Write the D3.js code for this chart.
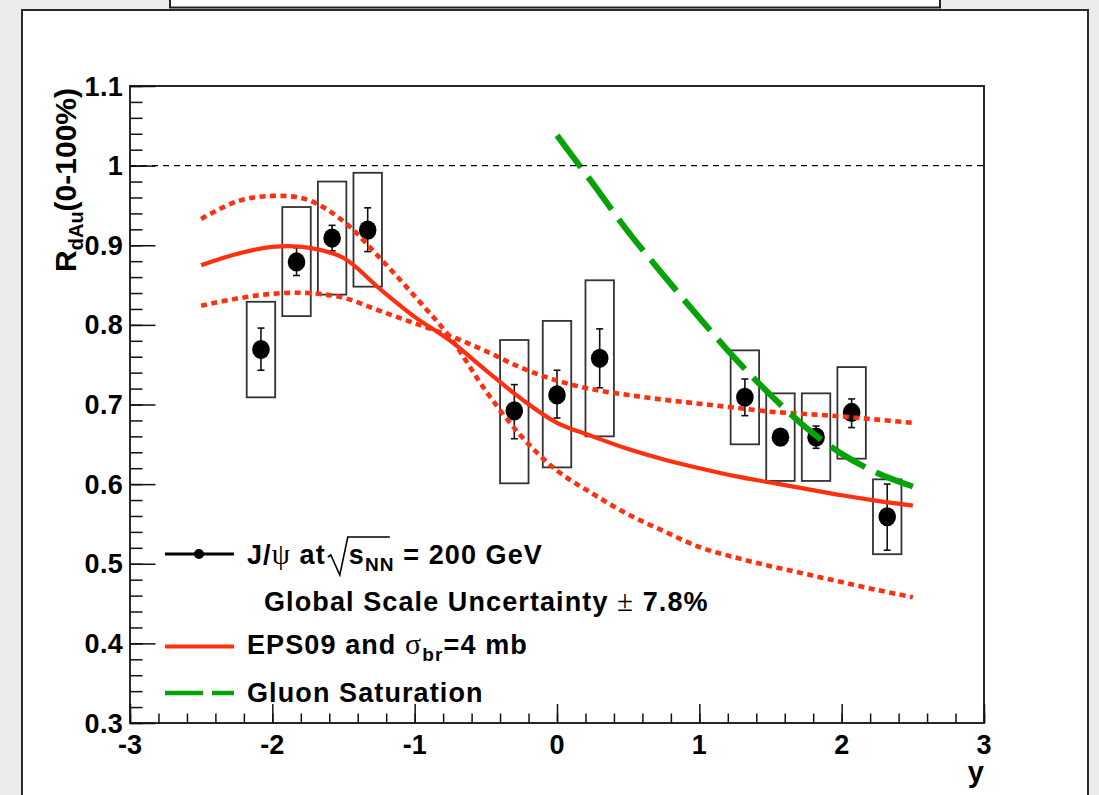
<!DOCTYPE html>
<html><head><meta charset="utf-8">
<script src="https://cdn.jsdelivr.net/npm/d3@7"></script>
<style>
html,body{margin:0;padding:0;background:#ebebed;}
svg{display:block;}
text{font-family:"Liberation Sans",Arial,Helvetica,sans-serif;font-weight:bold;fill:#000;}
.sym{font-family:"Liberation Serif","Times New Roman",serif;font-weight:normal;}
</style></head><body>
<svg id="chart" width="1099" height="795"></svg>
<script>
// J/psi nuclear modification factor in d+Au vs rapidity
const rapidity   = [-2.08, -1.83, -1.58, -1.33, -0.30, 0.00, 0.30, 1.32, 1.57, 1.82, 2.07, 2.32];
const rdau       = [0.769, 0.879, 0.909, 0.919, 0.692, 0.712, 0.758, 0.709, 0.659, 0.659, 0.690, 0.559];
const statLow    = [0.743, 0.862, 0.893, 0.892, 0.657, 0.683, 0.721, 0.686, 0.650, 0.645, 0.671, 0.517];
const statHigh   = [0.796, 0.897, 0.925, 0.947, 0.725, 0.743, 0.795, 0.732, 0.668, 0.673, 0.707, 0.600];
const sysLow     = [0.709, 0.811, 0.838, 0.848, 0.601, 0.621, 0.660, 0.650, 0.604, 0.604, 0.632, 0.512];
const sysHigh    = [0.829, 0.948, 0.980, 0.991, 0.781, 0.805, 0.856, 0.768, 0.714, 0.714, 0.747, 0.606];
const sysHalfWidth = 0.1;

// EPS09 + breakup cross section calculation (central value and band edges)
const modelY       = [-2.5, -2.25, -2.0, -1.75, -1.5, -1.25, -1.0, -0.75, -0.5, -0.25, 0.0, 0.25, 0.5, 0.75, 1.0, 1.25, 1.5, 1.75, 2.0, 2.25, 2.5];
const eps09Central = [0.875, 0.889, 0.898, 0.897, 0.884, 0.846, 0.810, 0.780, 0.743, 0.707, 0.677, 0.660, 0.644, 0.631, 0.620, 0.610, 0.602, 0.594, 0.586, 0.579, 0.573];
const eps09EdgeA   = [0.933, 0.955, 0.962, 0.957, 0.930, 0.885, 0.836, 0.784, 0.717, 0.660, 0.617, 0.588, 0.562, 0.541, 0.521, 0.508, 0.497, 0.487, 0.477, 0.467, 0.458];
const eps09EdgeB   = [0.824, 0.833, 0.839, 0.840, 0.834, 0.818, 0.802, 0.786, 0.767, 0.746, 0.730, 0.719, 0.712, 0.706, 0.701, 0.696, 0.691, 0.688, 0.685, 0.681, 0.677];

// Gluon saturation (CGC) calculation
const satY = [0.0, 0.25, 0.5, 0.75, 1.0, 1.25, 1.5, 1.75, 2.0, 2.25, 2.5];
const satR = [1.038, 0.978, 0.917, 0.862, 0.809, 0.758, 0.712, 0.671, 0.638, 0.614, 0.597];

const xTicks = [-3, -2, -1, 0, 1, 2, 3];
const yTicks = [0.3, 0.4, 0.5, 0.6, 0.7, 0.8, 0.9, 1.0, 1.1];
const xDomain = [-3, 3];
const yDomain = [0.3, 1.1];

const RED = "#ff3010", GREEN = "#06a306";

const svg = d3.select("#chart");

// page panel and caption box
svg.append("rect").attr("x", 0).attr("y", 0).attr("width", 1099).attr("height", 795).attr("fill", "#ebebed");
svg.append("rect").attr("x", 170).attr("y", -4).attr("width", 770).attr("height", 11.5)
  .attr("fill", "#fff").attr("stroke", "#222").attr("stroke-width", 2);
svg.append("rect").attr("x", 22).attr("y", 10).attr("width", 1066).attr("height", 800)
  .attr("fill", "#fff").attr("stroke", "#2a2a2a").attr("stroke-width", 2);

const plotL = 130, plotR = 984, plotT = 86, plotB = 723;
const x = d3.scaleLinear().domain(xDomain).range([plotL, plotR]);
const y = d3.scaleLinear().domain(yDomain).range([plotB, plotT]);

const plot = svg.append("g");

// systematic boxes
plot.selectAll("rect.sys").data(rapidity).join("rect").attr("class", "sys")
  .attr("x", d => x(d - sysHalfWidth))
  .attr("width", d => x(d + sysHalfWidth) - x(d - sysHalfWidth))
  .attr("y", (d, i) => y(sysHigh[i]))
  .attr("height", (d, i) => y(sysLow[i]) - y(sysHigh[i]))
  .attr("fill", "none").attr("stroke", "#333").attr("stroke-width", 1.8);

// statistical error bars
const eb = plot.selectAll("g.err").data(rapidity).join("g").attr("class", "err")
  .attr("stroke", "#111").attr("stroke-width", 1.6);
eb.append("line").attr("x1", d => x(d)).attr("x2", d => x(d))
  .attr("y1", (d, i) => y(statLow[i])).attr("y2", (d, i) => y(statHigh[i]));
eb.append("line").attr("x1", d => x(d) - 3.5).attr("x2", d => x(d) + 3.5)
  .attr("y1", (d, i) => y(statLow[i])).attr("y2", (d, i) => y(statLow[i]));
eb.append("line").attr("x1", d => x(d) - 3.5).attr("x2", d => x(d) + 3.5)
  .attr("y1", (d, i) => y(statHigh[i])).attr("y2", (d, i) => y(statHigh[i]));

// markers
plot.selectAll("ellipse.pt").data(rapidity).join("ellipse").attr("class", "pt")
  .attr("cx", d => x(d)).attr("cy", (d, i) => y(rdau[i]))
  .attr("rx", 8.8).attr("ry", 9.6).attr("fill", "#000");

// theory curves
const line = d3.line().curve(d3.curveCatmullRom.alpha(0.5));
const modelPts = arr => modelY.map((v, i) => [x(v), y(arr[i])]);
plot.append("path").attr("d", line(modelPts(eps09EdgeA)))
  .attr("fill", "none").attr("stroke", RED).attr("stroke-width", 4.6).attr("stroke-dasharray", "6,4.5");
plot.append("path").attr("d", line(modelPts(eps09EdgeB)))
  .attr("fill", "none").attr("stroke", RED).attr("stroke-width", 4.6).attr("stroke-dasharray", "6,4.5");
plot.append("path").attr("d", line(modelPts(eps09Central)))
  .attr("fill", "none").attr("stroke", RED).attr("stroke-width", 4.2);
plot.append("path").attr("d", line(satY.map((v, i) => [x(v), y(satR[i])])))
  .attr("fill", "none").attr("stroke", GREEN).attr("stroke-width", 6).attr("stroke-dasharray", "40,12");

// unity reference line
plot.append("line").attr("x1", x(-3)).attr("x2", x(3)).attr("y1", y(1)).attr("y2", y(1))
  .attr("stroke", "#000").attr("stroke-width", 1.3).attr("stroke-dasharray", "6,5");

// frame
svg.append("rect").attr("x", plotL).attr("y", plotT).attr("width", plotR - plotL).attr("height", plotB - plotT)
  .attr("fill", "none").attr("stroke", "#111").attr("stroke-width", 1.8);

// axes with inward ticks
const yMinor = d3.range(0.3, 1.1001, 0.02);
const xMinor = d3.range(-3, 3.0001, 0.2);
const axY = svg.append("g").attr("transform", `translate(${plotL},0)`);
axY.call(d3.axisRight(y).tickValues(yMinor).tickSize(12.5).tickFormat(""));
axY.call(g => g.select(".domain").remove());
const axY2 = svg.append("g").attr("transform", `translate(${plotL},0)`);
axY2.call(d3.axisRight(y).tickValues(yTicks).tickSize(25.5).tickFormat(""));
axY2.call(g => g.select(".domain").remove());
const axX = svg.append("g").attr("transform", `translate(0,${plotB})`);
axX.call(d3.axisTop(x).tickValues(xMinor).tickSize(9.5).tickFormat(""));
axX.call(g => g.select(".domain").remove());
const axX2 = svg.append("g").attr("transform", `translate(0,${plotB})`);
axX2.call(d3.axisTop(x).tickValues(xTicks).tickSize(19).tickFormat(""));
axX2.call(g => g.select(".domain").remove());
svg.selectAll(".tick line").attr("stroke", "#111").attr("stroke-width", 1.5);

// tick labels
svg.selectAll("text.yl").data(yTicks).join("text").attr("class", "yl")
  .attr("x", 123).attr("y", d => y(d) + 9.5).attr("text-anchor", "end")
  .style("font-size", "27px").style("letter-spacing", "0.3px")
  .text(d => String(+d.toFixed(1)));
svg.selectAll("text.xl").data(xTicks).join("text").attr("class", "xl")
  .attr("x", d => x(d)).attr("y", 754).attr("text-anchor", "middle")
  .style("font-size", "27px")
  .text(d => String(d));

// axis titles
svg.append("text").attr("x", 984).attr("y", 782).attr("text-anchor", "end")
  .style("font-size", "29px").text("y");
const yt = svg.append("text").attr("transform", "translate(76,88) rotate(-90)")
  .attr("text-anchor", "end").style("font-size", "30px");
yt.append("tspan").text("R");
yt.append("tspan").attr("dy", 7).style("font-size", "20px").text("dAu");
yt.append("tspan").attr("dy", -7).text("(0-100%)");

// legend
const lg = svg.append("g");
const fs = "27px", ls = "1.1px";
lg.append("line").attr("x1", 165).attr("x2", 234).attr("y1", 554).attr("y2", 554)
  .attr("stroke", "#000").attr("stroke-width", 3.2);
lg.append("circle").attr("cx", 199).attr("cy", 554).attr("r", 5).attr("fill", "#000");
lg.append("line").attr("x1", 165).attr("x2", 234).attr("y1", 646.5).attr("y2", 646.5)
  .attr("stroke", RED).attr("stroke-width", 4.2);
lg.append("line").attr("x1", 165).attr("x2", 234).attr("y1", 693).attr("y2", 693)
  .attr("stroke", GREEN).attr("stroke-width", 4.5).attr("stroke-dasharray", "38,9");

const t1 = lg.append("text").attr("x", 247).attr("y", 564).style("font-size", fs).style("letter-spacing", ls);
t1.append("tspan").text("J/");
t1.append("tspan").attr("class", "sym").style("font-size", "29px").text("ψ");
t1.append("tspan").text(" at");
const w1 = t1.node().getComputedTextLength();
const rx0 = 247 + w1 + 2;
lg.append("path")
  .attr("d", `M${rx0},557 L${rx0 + 3},555 L${rx0 + 12},575 L${rx0 + 20},537 L${rx0 + 62},537`)
  .attr("fill", "none").attr("stroke", "#000").attr("stroke-width", 1.6);
const t2 = lg.append("text").attr("x", rx0 + 21).attr("y", 564).style("font-size", fs).style("letter-spacing", ls);
t2.append("tspan").text("s");
t2.append("tspan").attr("dy", 7).style("font-size", "19px").text("NN");
t2.append("tspan").attr("dy", -7).text(" = 200 GeV");

const t3 = lg.append("text").attr("x", 264).attr("y", 611).style("font-size", fs).style("letter-spacing", ls);
t3.append("tspan").text("Global Scale Uncertainty ");
t3.append("tspan").attr("class", "sym").style("font-size", "29px").text("±");
t3.append("tspan").text(" 7.8%");

const t4 = lg.append("text").attr("x", 247).attr("y", 654).style("font-size", fs).style("letter-spacing", ls);
t4.append("tspan").text("EPS09 and ");
t4.append("tspan").attr("class", "sym").style("font-size", "30px").text("σ");
t4.append("tspan").attr("dy", 7).style("font-size", "19px").text("br");
t4.append("tspan").attr("dy", -7).text("=4 mb");

lg.append("text").attr("x", 247).attr("y", 702).style("font-size", fs).style("letter-spacing", ls)
  .text("Gluon Saturation");
</script>
</body></html>
